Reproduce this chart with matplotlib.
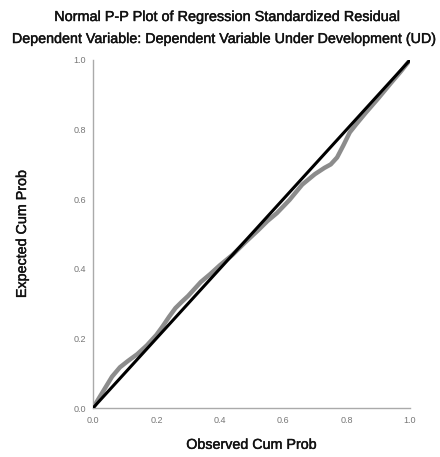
import matplotlib.pyplot as plt
import matplotlib.patheffects as pe

# observed vs expected cumulative probabilities
observed = [0.0, 0.02, 0.04, 0.06, 0.085, 0.11, 0.14, 0.17, 0.20, 0.22, 0.24,
            0.26, 0.28, 0.30, 0.32, 0.34, 0.37, 0.40, 0.44, 0.48, 0.52, 0.55,
            0.58, 0.62, 0.66, 0.70, 0.73, 0.75, 0.77, 0.79, 0.81, 0.83, 0.86,
            0.90, 0.94, 0.97, 1.0]
expected = [0.0, 0.03, 0.06, 0.09, 0.117, 0.135, 0.155, 0.18, 0.21, 0.235, 0.262,
            0.287, 0.305, 0.322, 0.342, 0.362, 0.385, 0.41, 0.44, 0.476, 0.51, 0.537,
            0.56, 0.598, 0.642, 0.672, 0.69, 0.70, 0.72, 0.755, 0.792, 0.815, 0.848,
            0.89, 0.934, 0.966, 1.0]
ref_line = [0.0, 1.0]
ticks = [0.0, 0.2, 0.4, 0.6, 0.8, 1.0]
tick_labels = ['0.0', '0.2', '0.4', '0.6', '0.8', '1.0']

plt.rcParams['font.family'] = ['Liberation Sans', 'DejaVu Sans']

# slight stroke so the text looks as heavy as in the reference
heavy = [pe.withStroke(linewidth=0.3, foreground='#111111')]

fig = plt.figure(figsize=(4.4, 4.57), dpi=100)
ax = fig.add_axes([93 / 440, 49 / 457, 317 / 440, 348 / 457])

ax.plot(observed, expected, color='#8c8c8c', linewidth=3.2, solid_capstyle='round',
        solid_joinstyle='round', zorder=2)
ax.plot(ref_line, ref_line, color='black', linewidth=2.2, zorder=3)

ax.set_xlim(0, 1)
ax.set_ylim(0, 1)
ax.set_xticks(ticks)
ax.set_xticklabels(tick_labels)
ax.set_yticks(ticks)
ax.set_yticklabels(tick_labels)
ax.tick_params(length=0, labelsize=6.5, labelcolor='#777777')
ax.tick_params(axis='x', pad=6)
ax.tick_params(axis='y', pad=5)

for side in ['top', 'right']:
    ax.spines[side].set_visible(False)
for side in ['left', 'bottom']:
    ax.spines[side].set_color('#aaaaaa')
    ax.spines[side].set_linewidth(1.0)

ax.set_xlabel('Observed Cum Prob', fontsize=10.3, color='#111111', labelpad=9,
              path_effects=heavy)
ax.set_ylabel('Expected Cum Prob', fontsize=10.3, color='#111111', labelpad=32,
              path_effects=heavy)

fig.text(0.515, 1 - 17 / 457, 'Normal P-P Plot of Regression Standardized Residual',
         ha='center', va='center', fontsize=10.4, color='#111111', path_effects=heavy)
fig.text(0.511, 1 - 39 / 457, 'Dependent Variable: Dependent Variable Under Development (UD)',
         ha='center', va='center', fontsize=10.3, color='#111111', path_effects=heavy)

fig.savefig('out.png', dpi=100, facecolor='white')
